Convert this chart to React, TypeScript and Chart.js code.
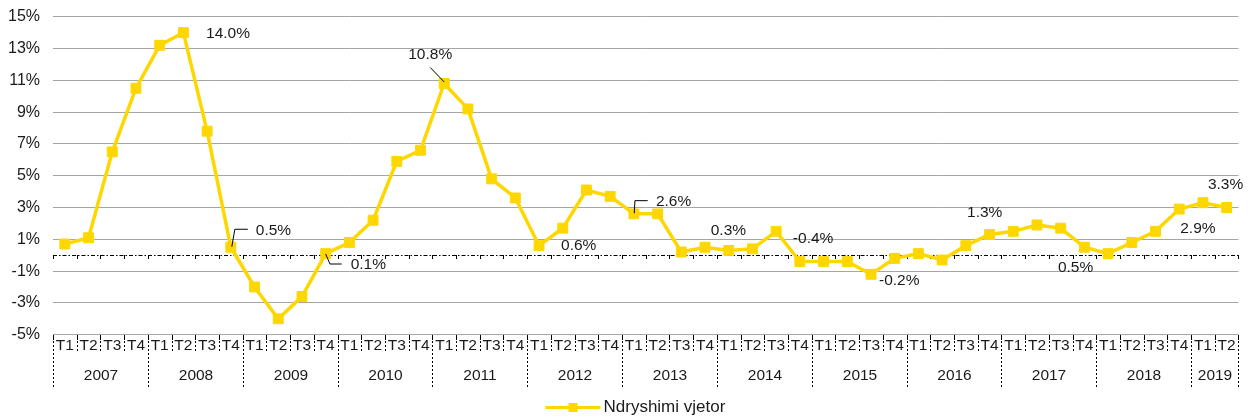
import React, { useEffect, useRef } from 'react';
import { Chart, registerables } from 'chart.js';

Chart.register(...registerables);

// ---------- data ----------
const years = ['2007', '2008', '2009', '2010', '2011', '2012', '2013', '2014', '2015', '2016', '2017', '2018', '2019'];
const quartersPerYear = [4, 4, 4, 4, 4, 4, 4, 4, 4, 4, 4, 4, 2];
const quarterNames = ['T1', 'T2', 'T3', 'T4'];
const categories: string[] = years.flatMap((y, i) => quarterNames.slice(0, quartersPerYear[i]).map((q) => `${q} ${y}`));

const seriesName = 'Ndryshimi vjetor';
const values = [
  0.7, 1.1, 6.5, 10.5,
  13.2, 14.0, 7.8, 0.5,
  -2.0, -4.0, -2.6, 0.1,
  0.8, 2.2, 5.9, 6.6,
  10.8, 9.2, 4.8, 3.6,
  0.6, 1.7, 4.1, 3.7,
  2.6, 2.6, 0.2, 0.5,
  0.3, 0.4, 1.5, -0.4,
  -0.4, -0.4, -1.2, -0.2,
  0.1, -0.3, 0.6, 1.3,
  1.5, 1.9, 1.7, 0.5,
  0.1, 0.8, 1.5, 2.9,
  3.3, 3.0,
];

const yTicks = [-5, -3, -1, 1, 3, 5, 7, 9, 11, 13, 15];

// data labels shown on the chart (category index + text)
const labelIndex = [5, 16, 7, 11, 20, 24, 28, 31, 34, 39, 43, 47, 48];
const labelText = ['14.0%', '10.8%', '0.5%', '0.1%', '0.6%', '2.6%', '0.3%', '-0.4%', '-0.2%', '1.3%', '0.5%', '2.9%', '3.3%'];

// ---------- styling / placement ----------
const YELLOW = '#FFD700';
const GRID = '#a6a6a6';
const TEXT = '#1a1a1a';
const FONT = '"Liberation Sans", Arial, sans-serif';
const NARROW = '"Liberation Sans Narrow", "Arial Narrow", sans-serif';

// offsets (px) of each label's left edge / vertical centre from its point, plus optional leader line
const labelPlacement: { dx: number; dy: number; leader?: [number, number][] }[] = [
  { dx: 22.6, dy: 1.4 },
  { dx: -36, dy: -28.5, leader: [[-14, -16], [0, -1.5]] },
  { dx: 25, dy: -17, leader: [[17, -18], [4, -18], [1, -0.5]] },
  { dx: 25, dy: 11.4, leader: [[0, 0.4], [4.3, 10.4], [16, 10.4]] },
  { dx: 22, dy: 0 },
  { dx: 22, dy: -12, leader: [[13.8, -13.2], [1, -13.2], [0.4, -0.6]] },
  { dx: -18, dy: -20 },
  { dx: -7, dy: -22.6 },
  { dx: 8, dy: 6.7 },
  { dx: -22.5, dy: -21.5 },
  { dx: -26.5, dy: 20 },
  { dx: 1, dy: 20 },
  { dx: 5, dy: -17.7 },
];

const overlayPlugin = {
  id: 'overlay',
  beforeDatasetsDraw(chart: any) {
    const { ctx, chartArea, scales } = chart;
    const xs = scales.x;
    const y0 = scales.y.getPixelForValue(0);
    const c0 = xs.getPixelForValue(0);
    const w = xs.getPixelForValue(1) - c0;
    ctx.save();
    ctx.strokeStyle = '#000';
    ctx.lineWidth = 1.2;
    ctx.setLineDash([4, 2, 1.5, 2]);
    ctx.beginPath();
    ctx.moveTo(chartArea.left, Math.round(y0) + 0.5);
    ctx.lineTo(chartArea.right, Math.round(y0) + 0.5);
    ctx.stroke();
    ctx.setLineDash([]);
    ctx.lineWidth = 1;
    ctx.beginPath();
    for (let k = 0; k <= categories.length; k++) {
      const bx = Math.round(c0 + (k - 0.5) * w) + 0.5;
      ctx.moveTo(bx, Math.round(y0));
      ctx.lineTo(bx, Math.round(y0) + 4);
    }
    ctx.stroke();
    ctx.restore();
  },
  afterDraw(chart: any) {
    const { ctx, chartArea, scales } = chart;
    const xs = scales.x;
    const ys = scales.y;
    const c0 = xs.getPixelForValue(0);
    const w = xs.getPixelForValue(1) - c0;
    const bottom = Math.round(chartArea.bottom);
    const boundary = (k: number) => Math.round(c0 + (k - 0.5) * w) + 0.5;

    ctx.save();
    // axis ticks
    ctx.strokeStyle = '#000';
    ctx.lineWidth = 1;
    ctx.beginPath();
    for (let k = 0; k <= categories.length; k++) {
      ctx.moveTo(boundary(k), bottom);
      ctx.lineTo(boundary(k), bottom + 5);
    }
    ctx.stroke();
    // dotted separators
    ctx.setLineDash([2, 2]);
    ctx.beginPath();
    for (let k = 0; k <= categories.length; k++) {
      ctx.moveTo(boundary(k), bottom + 6);
      ctx.lineTo(boundary(k), bottom + 18);
    }
    let start = 0;
    const yearStarts: number[] = [];
    quartersPerYear.forEach((n) => {
      yearStarts.push(start);
      start += n;
    });
    yearStarts.push(start);
    yearStarts.forEach((k) => {
      ctx.moveTo(boundary(k), bottom + 18);
      ctx.lineTo(boundary(k), bottom + 53);
    });
    ctx.stroke();
    ctx.setLineDash([]);

    // quarter labels
    ctx.fillStyle = TEXT;
    ctx.textAlign = 'center';
    ctx.textBaseline = 'middle';
    ctx.font = `15.5px ${NARROW}`;
    categories.forEach((c, i) => {
      ctx.fillText(c.split(' ')[0], xs.getPixelForValue(i), bottom + 11);
    });
    // year labels
    years.forEach((y, i) => {
      const a = boundary(yearStarts[i]);
      const b = boundary(yearStarts[i + 1]);
      ctx.fillText(y, (a + b) / 2, bottom + 40.5);
    });

    // data labels
    ctx.font = `15.5px ${FONT}`;
    ctx.textAlign = 'left';
    labelIndex.forEach((idx, j) => {
      const px = xs.getPixelForValue(idx);
      const py = ys.getPixelForValue(values[idx]);
      const p = labelPlacement[j];
      ctx.fillStyle = TEXT;
      ctx.fillText(labelText[j], px + p.dx, py + p.dy);
      if (p.leader) {
        ctx.strokeStyle = '#000';
        ctx.lineWidth = 1;
        ctx.beginPath();
        p.leader.forEach(([lx, ly], n) => {
          if (n === 0) ctx.moveTo(px + lx, py + ly);
          else ctx.lineTo(px + lx, py + ly);
        });
        ctx.stroke();
      }
    });

    // legend
    const lx = chart.width / 2 - 81;
    const ly = 407.5;
    ctx.strokeStyle = YELLOW;
    ctx.lineWidth = 3;
    ctx.beginPath();
    ctx.moveTo(lx, ly);
    ctx.lineTo(lx + 55, ly);
    ctx.stroke();
    ctx.fillStyle = YELLOW;
    ctx.fillRect(lx + 27.5 - 4.5, ly - 4.5, 9, 9);
    ctx.fillStyle = TEXT;
    ctx.font = `17px ${FONT}`;
    ctx.textAlign = 'left';
    ctx.fillText(seriesName, lx + 58, ly);
    ctx.restore();
  },
};

export default function App() {
  const ref = useRef<HTMLCanvasElement | null>(null);
  useEffect(() => {
    document.body.style.margin = '0';
    if (!ref.current) return;
    const chart = new Chart(ref.current, {
      type: 'line',
      data: {
        labels: categories,
        datasets: [
          {
            label: seriesName,
            data: values,
            borderColor: YELLOW,
            backgroundColor: YELLOW,
            borderWidth: 3.5,
            pointStyle: 'rect',
            pointRadius: 7,
            pointBorderWidth: 1,
            pointBorderColor: YELLOW,
            pointBackgroundColor: YELLOW,
            tension: 0,
          },
        ],
      },
      options: {
        responsive: false,
        animation: false,
        layout: { padding: { top: 16.7, right: 14.5, bottom: 85.3, left: 0 } },
        plugins: { legend: { display: false }, tooltip: { enabled: false } },
        scales: {
          x: { type: 'category', offset: true, display: false },
          y: {
            min: -5,
            max: 15,
            afterBuildTicks: (scale: any) => {
              scale.ticks = yTicks.map((v) => ({ value: v }));
            },
            afterFit: (scale: any) => {
              scale.width = 53;
              scale.paddingTop = 0;
              scale.paddingBottom = 0;
            },
            grid: { color: GRID, lineWidth: 1, drawTicks: false },
            border: { display: false },
            ticks: {
              padding: 13,
              color: TEXT,
              font: { family: FONT, size: 16 },
              callback: (v: any) => `${v}%`,
            },
          },
        },
      },
      plugins: [overlayPlugin],
    });
    return () => chart.destroy();
  }, []);
  return (
    <div style={{ width: 1253, height: 420 }}>
      <canvas ref={ref} width={1253} height={420} />
    </div>
  );
}
